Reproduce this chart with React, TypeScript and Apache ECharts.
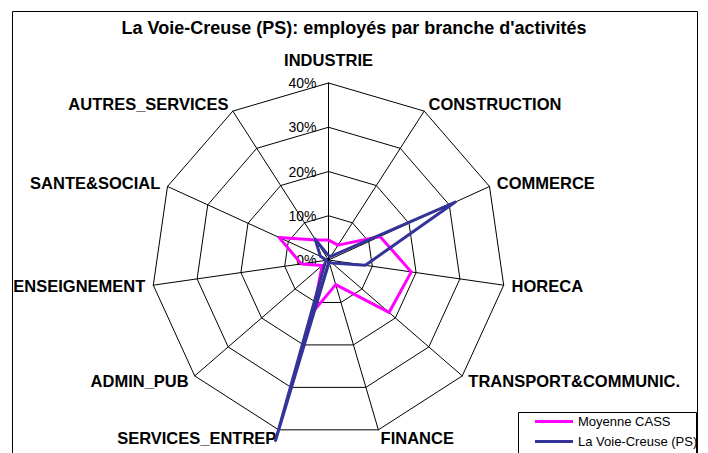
import React, { useEffect, useRef } from "react";
import * as echarts from "echarts";

const categories = [
  "INDUSTRIE",
  "CONSTRUCTION",
  "COMMERCE",
  "HORECA",
  "TRANSPORT&COMMUNIC.",
  "FINANCE",
  "SERVICES_ENTREP",
  "ADMIN_PUB",
  "ENSEIGNEMENT",
  "SANTE&SOCIAL",
  "AUTRES_SERVICES",
];
const moyenneCASS = [4.5, 4.0, 12.8, 18.9, 18.1, 5.8, 12.1, 1.9, 6.2, 12.3, 5.4];
const voieCreuse = [1.0, 1.0, 31.5, 8.4, 1.0, 0.5, 42.5, 1.0, 0.5, 2.0, 5.6];
const axisMax = 40;
const axisSplits = 4;
const titleText = "La Voie-Creuse (PS): employés par branche d'activités";
const seriesNames = ["Moyenne CASS", "La Voie-Creuse (PS)"];
const seriesColors = ["#FF00FF", "#333399"];

const FONT = "Liberation Sans, Arial, sans-serif";

export default function App() {
  const ref = useRef<HTMLDivElement>(null);
  useEffect(() => {
    if (!ref.current) return;
    const chart = echarts.init(ref.current, undefined, { renderer: "svg" });
    // ECharts radar runs counter-clockwise; Excel runs clockwise -> reorder
    const order = [0, ...categories.slice(1).map((_, i) => categories.length - 1 - i)];
    const ind = order.map((i, k) => {
      const o: any = { name: categories[i], min: 0, max: axisMax };
      if (k === 0) {
        o.axisLabel = { show: true };
        o.nameGap = 15;
      }
      return o;
    });
    const pick = (arr: number[]) => order.map((i) => arr[i]);
    const legendBase = {
      orient: "vertical",
      left: 530,
      icon: "rect",
      itemWidth: 38,
      itemHeight: 3,
      textStyle: { fontFamily: FONT, fontSize: 13, color: "#000" },
    };
    chart.setOption({
      animation: false,
      backgroundColor: "#fff",
      title: {
        text: titleText,
        left: "center",
        top: 14,
        textStyle: { fontFamily: FONT, fontSize: 18, fontWeight: "bold", color: "#000" },
      },
      legend: [
        { ...legendBase, top: 410, data: [seriesNames[0]] },
        { ...legendBase, top: 430, data: [seriesNames[1]] },
      ],
      radar: {
        center: [328.5, 260],
        radius: 177,
        startAngle: 90,
        splitNumber: axisSplits,
        shape: "polygon",
        nameGap: 8,
        axisName: { color: "#000", fontFamily: FONT, fontSize: 16.5, fontWeight: "bold" },
        axisLine: { lineStyle: { color: "#000", width: 1 } },
        splitLine: { lineStyle: { color: "#000", width: 1 } },
        splitArea: { show: false },
        axisTick: { show: false },
        axisLabel: {
          show: false,
          formatter: (v: number) => v + "%",
          color: "#000",
          fontFamily: FONT,
          fontSize: 14,
          margin: 12,
        },
        indicator: ind,
      },
      series: [
        {
          type: "radar",
          symbol: "none",
          data: [
            {
              name: seriesNames[0],
              value: pick(moyenneCASS),
              lineStyle: { color: seriesColors[0], width: 3 },
              itemStyle: { color: seriesColors[0] },
            },
            {
              name: seriesNames[1],
              value: pick(voieCreuse),
              lineStyle: { color: seriesColors[1], width: 3 },
              itemStyle: { color: seriesColors[1] },
            },
          ],
        },
      ],
      graphic: [
        {
          type: "rect",
          shape: { x: 12.5, y: 11.5, width: 685, height: 470 },
          style: { fill: "none", stroke: "#000", lineWidth: 1 },
          silent: true,
          z: -1,
        },
        {
          type: "rect",
          shape: { x: 518.5, y: 412.5, width: 178, height: 60 },
          style: { fill: "#fff", stroke: "#000", lineWidth: 1 },
          silent: true,
          z: 0,
        },
      ],
    });
    return () => chart.dispose();
  }, []);
  return (
    <div
      ref={ref}
      style={{ position: "fixed", left: 0, top: 0, width: 708, height: 453, background: "#fff" }}
    />
  );
}
